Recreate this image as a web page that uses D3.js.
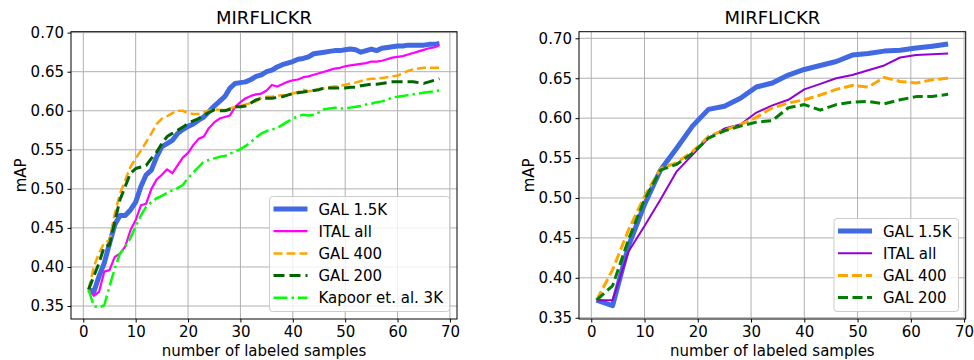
<!DOCTYPE html>
<html>
<head>
<meta charset="utf-8">
<script src="https://cdn.jsdelivr.net/npm/d3@7"></script>
<style>
  body { margin: 0; background: #fff; }
  svg { font-family: "DejaVu Sans", sans-serif; }
</style>
</head>
<body>
<svg id="chart"></svg>
<script>
// ---- data ----
let titleText = 'MIRFLICKR'
let xLabelText = 'number of labeled samples'
let yLabelText = 'mAP'

let xTicks = [0, 10, 20, 30, 40, 50, 60, 70]
let yTicks = [0.35, 0.40, 0.45, 0.50, 0.55, 0.60, 0.65, 0.70]

// left panel: one point per labeled sample, 1..68
let leftX = d3.range(1, 69)
let leftGal15k = [0.371, 0.368, 0.388, 0.405, 0.430, 0.454, 0.466, 0.466, 0.473, 0.483,
  0.503, 0.518, 0.524, 0.541, 0.554, 0.558, 0.562, 0.571, 0.576, 0.580,
  0.583, 0.588, 0.592, 0.599, 0.606, 0.612, 0.618, 0.629, 0.635, 0.636,
  0.637, 0.640, 0.644, 0.646, 0.650, 0.652, 0.656, 0.659, 0.661, 0.663,
  0.666, 0.667, 0.669, 0.673, 0.674, 0.675, 0.676, 0.677, 0.677, 0.678,
  0.679, 0.678, 0.675, 0.677, 0.679, 0.677, 0.680, 0.681, 0.682, 0.683,
  0.683, 0.684, 0.684, 0.684, 0.684, 0.685, 0.685, 0.686]
let leftItal = [0.371, 0.363, 0.368, 0.394, 0.396, 0.413, 0.417, 0.426, 0.447, 0.460,
  0.479, 0.481, 0.500, 0.512, 0.518, 0.525, 0.520, 0.530, 0.540, 0.546,
  0.556, 0.564, 0.567, 0.578, 0.585, 0.590, 0.592, 0.594, 0.605, 0.611,
  0.616, 0.619, 0.621, 0.622, 0.626, 0.633, 0.631, 0.634, 0.637, 0.639,
  0.640, 0.643, 0.644, 0.646, 0.648, 0.650, 0.652, 0.654, 0.655, 0.657,
  0.658, 0.659, 0.660, 0.661, 0.663, 0.663, 0.664, 0.666, 0.668, 0.669,
  0.670, 0.672, 0.674, 0.676, 0.678, 0.680, 0.681, 0.684]
let leftGal400 = [0.371, 0.400, 0.418, 0.431, 0.434, 0.468, 0.494, 0.511, 0.528, 0.539,
  0.549, 0.560, 0.571, 0.583, 0.590, 0.593, 0.597, 0.600, 0.600, 0.597,
  0.596, 0.596, 0.598, 0.600, 0.602, 0.601, 0.601, 0.603, 0.605, 0.606,
  0.608, 0.610, 0.612, 0.617, 0.618, 0.618, 0.619, 0.620, 0.620, 0.622,
  0.624, 0.627, 0.625, 0.626, 0.628, 0.629, 0.630, 0.631, 0.632, 0.633,
  0.635, 0.636, 0.638, 0.640, 0.641, 0.641, 0.642, 0.643, 0.644, 0.645,
  0.648, 0.651, 0.653, 0.654, 0.655, 0.655, 0.655, 0.655]
let leftGal200 = [0.371, 0.388, 0.405, 0.426, 0.428, 0.458, 0.486, 0.503, 0.520, 0.526,
  0.528, 0.530, 0.539, 0.547, 0.558, 0.567, 0.571, 0.575, 0.579, 0.584,
  0.587, 0.590, 0.594, 0.598, 0.601, 0.600, 0.600, 0.602, 0.605, 0.605,
  0.606, 0.610, 0.614, 0.616, 0.616, 0.616, 0.617, 0.618, 0.620, 0.622,
  0.623, 0.624, 0.625, 0.626, 0.627, 0.629, 0.629, 0.629, 0.629, 0.629,
  0.630, 0.630, 0.632, 0.633, 0.634, 0.634, 0.635, 0.636, 0.637, 0.637,
  0.637, 0.637, 0.637, 0.636, 0.635, 0.637, 0.639, 0.641]
let leftKapoor = [0.371, 0.350, 0.348, 0.351, 0.375, 0.398, 0.417, 0.426, 0.437, 0.452,
  0.466, 0.477, 0.483, 0.488, 0.491, 0.495, 0.498, 0.501, 0.505, 0.514,
  0.521, 0.528, 0.535, 0.537, 0.539, 0.541, 0.542, 0.545, 0.548, 0.551,
  0.555, 0.560, 0.566, 0.571, 0.574, 0.576, 0.578, 0.582, 0.586, 0.590,
  0.593, 0.595, 0.594, 0.595, 0.598, 0.602, 0.603, 0.604, 0.603, 0.603,
  0.604, 0.605, 0.606, 0.608, 0.609, 0.611, 0.612, 0.614, 0.617, 0.618,
  0.619, 0.620, 0.621, 0.622, 0.623, 0.624, 0.625, 0.626]

// right panel: every 3 samples, 1..67
let rightX = d3.range(1, 68, 3)
let rightGal15k = [0.372, 0.365, 0.440, 0.492, 0.535, 0.562, 0.590, 0.611, 0.615, 0.625,
  0.639, 0.644, 0.654, 0.661, 0.666, 0.671, 0.679, 0.681, 0.684, 0.685, 0.688, 0.690, 0.693]
let rightItal = [0.372, 0.372, 0.433, 0.465, 0.498, 0.533, 0.554, 0.575, 0.587, 0.592,
  0.607, 0.616, 0.623, 0.636, 0.643, 0.650, 0.654, 0.660, 0.666, 0.676, 0.679, 0.680, 0.681]
let rightGal400 = [0.372, 0.410, 0.460, 0.502, 0.537, 0.544, 0.558, 0.577, 0.585, 0.592,
  0.601, 0.613, 0.619, 0.623, 0.629, 0.636, 0.641, 0.639, 0.651, 0.646, 0.644, 0.648, 0.650]
let rightGal200 = [0.372, 0.390, 0.448, 0.498, 0.535, 0.542, 0.556, 0.575, 0.584, 0.590,
  0.595, 0.597, 0.613, 0.617, 0.610, 0.617, 0.620, 0.621, 0.618, 0.623, 0.627, 0.627, 0.630]

// ---- layout ----
let width = 974
let height = 360
let fontSize = 15

let svg = d3.select('#chart')
  .attr('width', width)
  .attr('height', height)

let panels = [
  {
    box: { left: 71, top: 31.7, right: 457, bottom: 319 },
    xDomain: [-2.35, 71.35],
    yDomain: [0.3334, 0.7012],
    xs: leftX,
    legendBox: { x: 269.5, y: 196.5, w: 180, h: 115 },
    series: [
      { name: 'GAL 1.5K', values: leftGal15k, color: '#4169e1', width: 5, dash: null },
      { name: 'ITAL all', values: leftItal, color: '#ff00ff', width: 2.2, dash: null },
      { name: 'GAL 400', values: leftGal400, color: '#ffa500', width: 2.5, dash: '9,4' },
      { name: 'GAL 200', values: leftGal200, color: '#006400', width: 3, dash: '11,5' },
      { name: 'Kapoor et. al. 3K', values: leftKapoor, color: '#00ff00', width: 2.5, dash: '14,4,2.5,4' }
    ]
  },
  {
    box: { left: 579, top: 31.7, right: 965.7, bottom: 319 },
    xDomain: [-2.3, 70.3],
    yDomain: [0.3484, 0.7083],
    xs: rightX,
    legendBox: { x: 834, y: 218.5, w: 124.5, h: 93 },
    series: [
      { name: 'GAL 1.5K', values: rightGal15k, color: '#4169e1', width: 5, dash: null },
      { name: 'ITAL all', values: rightItal, color: '#9400d3', width: 2, dash: null },
      { name: 'GAL 400', values: rightGal400, color: '#ffa500', width: 3, dash: '10,4' },
      { name: 'GAL 200', values: rightGal200, color: '#008000', width: 3, dash: '10,4.5' }
    ]
  }
]

let drawPanel = (p) => {
  let b = p.box
  let g = svg.append('g')

  let xScale = d3.scaleLinear().domain(p.xDomain).range([b.left, b.right])
  let yScale = d3.scaleLinear().domain(p.yDomain).range([b.bottom, b.top])

  // grid
  g.append('g')
    .selectAll('line')
    .data(xTicks)
    .enter()
    .append('line')
    .attr('x1', (d) => xScale(d)).attr('x2', (d) => xScale(d))
    .attr('y1', b.top).attr('y2', b.bottom)
    .attr('stroke', '#b0b0b0').attr('stroke-width', 1)
  g.append('g')
    .selectAll('line')
    .data(yTicks)
    .enter()
    .append('line')
    .attr('y1', (d) => yScale(d)).attr('y2', (d) => yScale(d))
    .attr('x1', b.left).attr('x2', b.right)
    .attr('stroke', '#b0b0b0').attr('stroke-width', 1)

  // lines
  let line = d3.line()
    .x((d) => xScale(d[0]))
    .y((d) => yScale(d[1]))

  p.series.forEach((s) => {
    g.append('path')
      .datum(p.xs.map((x, i) => [x, s.values[i]]))
      .attr('d', line)
      .attr('fill', 'none')
      .attr('stroke', s.color)
      .attr('stroke-width', s.width)
      .attr('stroke-linejoin', 'round')
      .attr('stroke-dasharray', s.dash)
  })

  // frame
  g.append('rect')
    .attr('x', b.left).attr('y', b.top)
    .attr('width', b.right - b.left).attr('height', b.bottom - b.top)
    .attr('fill', 'none').attr('stroke', '#000').attr('stroke-width', 1)

  // axes
  let xAxis = d3.axisBottom(xScale)
    .tickValues(xTicks)
    .tickFormat(d3.format('d'))
    .tickSize(3.5)
    .tickPadding(3.5)
  let yAxis = d3.axisLeft(yScale)
    .tickValues(yTicks)
    .tickFormat(d3.format('.2f'))
    .tickSize(3.5)
    .tickPadding(3.5)

  let gx = g.append('g')
    .attr('transform', 'translate(0,' + b.bottom + ')')
    .call(xAxis)
  let gy = g.append('g')
    .attr('transform', 'translate(' + b.left + ',0)')
    .call(yAxis)
  ;[gx, gy].forEach((a) => {
    a.attr('font-size', fontSize).attr('font-family', '"DejaVu Sans", sans-serif')
    a.select('.domain').remove()
    a.selectAll('text').attr('fill', '#000')
    a.selectAll('line').attr('stroke', '#000')
  })

  // title + axis labels
  let cx = (b.left + b.right) / 2
  g.append('text')
    .attr('x', cx).attr('y', 24)
    .attr('text-anchor', 'middle')
    .attr('font-size', 18)
    .text(titleText)
  g.append('text')
    .attr('x', cx).attr('y', 356)
    .attr('text-anchor', 'middle')
    .attr('font-size', fontSize)
    .text(xLabelText)
  g.append('text')
    .attr('transform', 'translate(' + (b.left - 45) + ',' + ((b.top + b.bottom) / 2) + ') rotate(-90)')
    .attr('text-anchor', 'middle')
    .attr('font-size', fontSize)
    .text(yLabelText)

  // legend
  let lb = p.legendBox
  let legend = g.append('g')
  legend.append('rect')
    .attr('x', lb.x).attr('y', lb.y)
    .attr('width', lb.w).attr('height', lb.h)
    .attr('rx', 3)
    .attr('fill', 'rgba(255,255,255,0.8)')
    .attr('stroke', '#cccccc')
  let rows = legend.selectAll('g.row')
    .data(p.series)
    .enter()
    .append('g')
    .attr('class', 'row')
    .attr('transform', (d, i) => 'translate(' + (lb.x + 4) + ',' + (lb.y + 12.5 + i * 22.2) + ')')
  rows.append('line')
    .attr('x1', 0).attr('x2', 34)
    .attr('y1', 0).attr('y2', 0)
    .attr('stroke', (d) => d.color)
    .attr('stroke-width', (d) => d.width)
    .attr('stroke-dasharray', (d) => d.dash)
  rows.append('text')
    .attr('x', 45).attr('y', 5.5)
    .attr('font-size', fontSize)
    .text((d) => d.name)
}

panels.forEach(drawPanel)
</script>
</body>
</html>
